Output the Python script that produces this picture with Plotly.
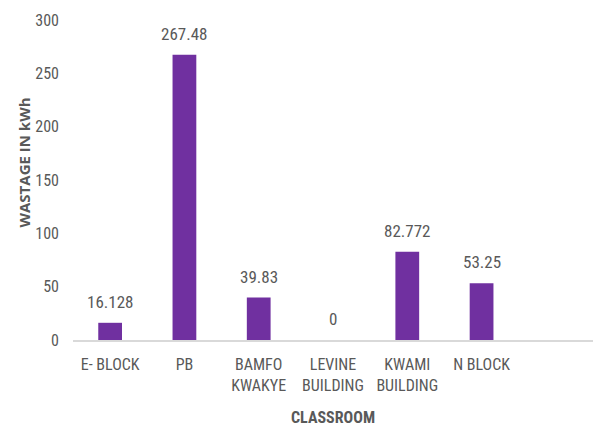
import plotly.graph_objects as go

categories = ["E- BLOCK", "PB", "BAMFO<br>KWAKYE", "LEVINE<br>BUILDING", "KWAMI<br>BUILDING", "N BLOCK", " "]
values = [16.128, 267.48, 39.83, 0, 82.772, 53.25, None]
value_labels = ["16.128", "267.48", "39.83", "0", "82.772", "53.25", ""]
y_ticks = [0, 50, 100, 150, 200, 250, 300]

FONT = "Liberation Sans Narrow, Roboto Condensed, Arial Narrow, sans-serif"
GRAY = "#595959"

xs = list(range(len(categories)))

fig = go.Figure(go.Bar(
    x=xs,
    y=values,
    width=0.32,
    marker=dict(color="#7030A0", line=dict(width=0)),
    hoverinfo="x+y",
))

label_anns = [
    dict(x=x, y=(v or 0), xref="x", yref="y", text=t, showarrow=False,
         xanchor="center", yanchor="bottom", yshift=9,
         font=dict(family=FONT, size=17, color=GRAY))
    for x, v, t in zip(xs, values, value_labels) if t
]

# page body has an 8px margin, so the figure is drawn 8px smaller
fig.update_layout(
    width=595, height=422,
    margin=dict(l=65, r=10, t=12, b=90),
    plot_bgcolor="white", paper_bgcolor="white",
    showlegend=False,
    xaxis=dict(
        tickmode="array",
        tickvals=xs,
        ticktext=categories,
        range=[-0.5, len(categories) - 0.5],
        showgrid=False, zeroline=False,
        showline=True, linecolor="#D9D9D9", linewidth=1.5,
        ticks="", tickfont=dict(family=FONT, size=16, color=GRAY),
        ticklabelstandoff=9, automargin=False,
    ),
    yaxis=dict(
        range=[0, 300],
        tickvals=y_ticks,
        showgrid=False, zeroline=False, showline=False,
        ticks="", tickfont=dict(family=FONT, size=16, color=GRAY),
        ticklabelstandoff=13, automargin=False,
    ),
    annotations=label_anns + [
        dict(text="<b>WASTAGE IN kWh</b>", xref="paper", yref="paper",
             x=-0.094, y=0.555, xanchor="center", yanchor="middle",
             textangle=-90, showarrow=False,
             font=dict(family="Open Sans, sans-serif", size=15, color=GRAY)),
        dict(text="<b>CLASSROOM</b>", xref="paper", yref="paper",
             x=0.5, y=-0.243, xanchor="center", yanchor="middle",
             showarrow=False,
             font=dict(family=FONT, size=16, color=GRAY)),
    ],
)

fig.write_html("out.html")
